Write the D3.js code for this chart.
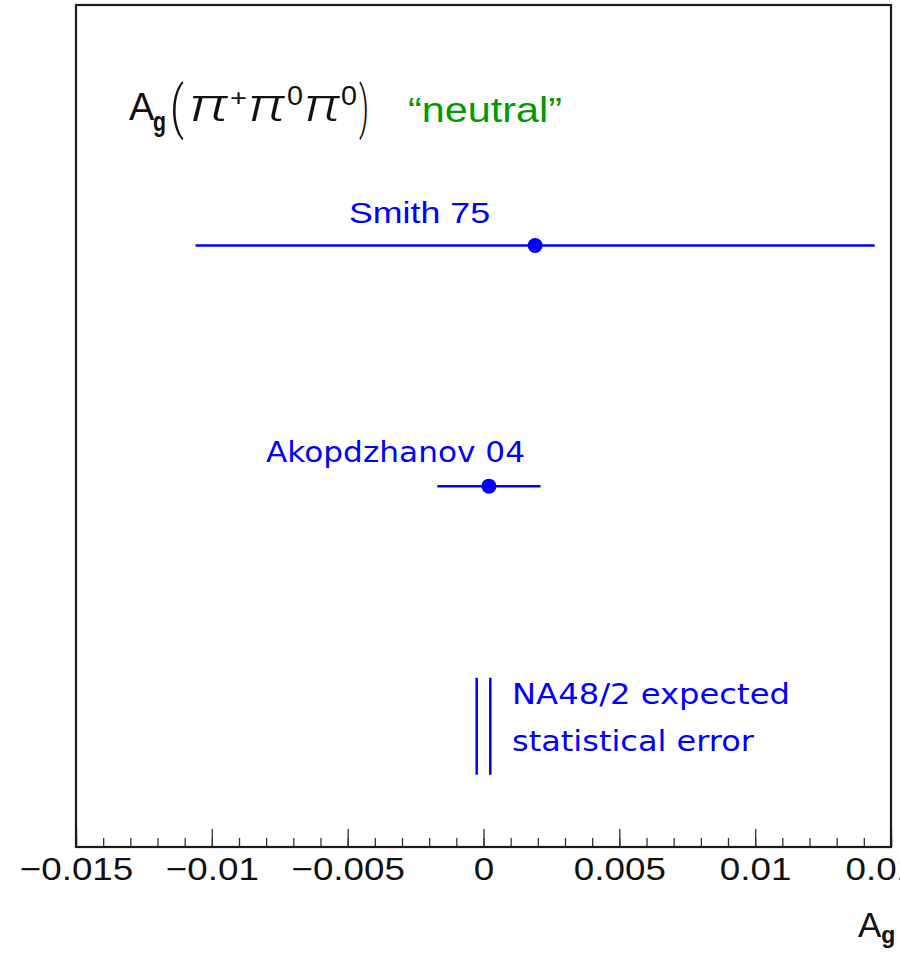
<!DOCTYPE html>
<html>
<head>
<meta charset="utf-8">
<script src="https://cdn.jsdelivr.net/npm/d3@7"></script>
<style>
  html, body { margin: 0; padding: 0; background: #fff; }
  svg { display: block; }
</style>
</head>
<body>
<svg id="chart" width="900" height="953"></svg>
<script>
// ---- data ----
const measurements = ["Smith 75", "Akopdzhanov 04"];
const centralValues = [0.0019, 0.0002];
const errors = [0.0125, 0.0019];
const expectedLabel = ["NA48/2 expected", "statistical error"];
const expectedCenter = [0];
const expectedError = [0.00025];
const tickValues = [-0.015, -0.01, -0.005, 0, 0.005, 0.01, 0.015];
const tickLabels = ["\u22120.015", "\u22120.01", "\u22120.005", "0", "0.005", "0.01", "0.015"];
const minorTicks = d3.range(-15, 16).map(d => d / 1000);

// ---- layout ----
const plotLeft = 76, plotRight = 891, plotTop = 5, plotBottom = 847;
const svg = d3.select("#chart");

const x = d3.scaleLinear().domain([-0.015, 0.015]).range([plotLeft, plotRight]);
const y = d3.scaleLinear().domain([-1, 2.5]).range([plotTop, plotBottom]);

const blue = "#0000ff";
const sans = "'Liberation Sans', Arial, Helvetica, sans-serif";
const thin = "Roboto, 'Liberation Sans', sans-serif";

// minor ticks
const minorAxis = d3.axisBottom(x).tickValues(minorTicks).tickSizeInner(-9).tickSizeOuter(0).tickFormat("");
svg.append("g").attr("transform", `translate(0,${plotBottom})`).call(minorAxis)
  .call(g => g.select(".domain").remove())
  .call(g => g.selectAll("line").attr("stroke", "#333").attr("stroke-width", 1.3));

// major ticks
const majorAxis = d3.axisBottom(x).tickValues(tickValues).tickSizeInner(-18).tickSizeOuter(0)
  .tickFormat((d, i) => tickLabels[i]);
svg.append("g").attr("transform", `translate(0,${plotBottom})`).call(majorAxis)
  .call(g => g.select(".domain").remove())
  .call(g => g.selectAll("line").attr("stroke", "#333").attr("stroke-width", 1.3))
  .call(g => g.selectAll("text")
    .attr("y", 33).attr("dy", 0)
    .attr("fill", "#111")
    .attr("font-family", sans)
    .attr("font-size", 32)
    .attr("transform", "scale(1.15,1)"));

// frame
svg.append("rect")
  .attr("x", plotLeft).attr("y", plotTop)
  .attr("width", plotRight - plotLeft).attr("height", plotBottom - plotTop)
  .attr("fill", "none").attr("stroke", "#1c1c14").attr("stroke-width", 2.2);

// measurements
const meas = svg.append("g");
measurements.forEach((name, i) => {
  const yy = y(i);
  meas.append("line")
    .attr("x1", x(centralValues[i] - errors[i])).attr("x2", x(centralValues[i] + errors[i]))
    .attr("y1", yy).attr("y2", yy)
    .attr("stroke", blue).attr("stroke-width", 2.5);
  meas.append("circle")
    .attr("cx", x(centralValues[i])).attr("cy", yy).attr("r", 7.5)
    .attr("fill", blue);
});

// labels for measurements
meas.append("text")
  .attr("x", 349).attr("y", y(0) - 23)
  .attr("font-family", sans).attr("font-size", 30)
  .attr("fill", blue)
  .attr("textLength", 141).attr("lengthAdjust", "spacingAndGlyphs")
  .text(measurements[0]);
meas.append("text")
  .attr("x", 266).attr("y", y(1) - 24)
  .attr("font-family", "'DejaVu Sans', sans-serif").attr("font-size", 28)
  .attr("fill", blue)
  .attr("textLength", 259).attr("lengthAdjust", "spacingAndGlyphs")
  .text(measurements[1]);

// expected statistical error (vertical lines)
const expY = 2;
[expectedCenter[0] - expectedError[0], expectedCenter[0] + expectedError[0]].forEach(v => {
  svg.append("line")
    .attr("x1", x(v)).attr("x2", x(v))
    .attr("y1", y(expY) - 49).attr("y2", y(expY) + 48)
    .attr("stroke", blue).attr("stroke-width", 2.5);
});
svg.append("text")
  .attr("x", 512).attr("y", y(expY) - 23)
  .attr("font-family", "'DejaVu Sans', sans-serif").attr("font-size", 29)
  .attr("fill", blue)
  .attr("textLength", 278).attr("lengthAdjust", "spacingAndGlyphs")
  .text(expectedLabel[0]);
svg.append("text")
  .attr("x", 512).attr("y", y(expY) + 24)
  .attr("font-family", "'DejaVu Sans', sans-serif").attr("font-size", 29)
  .attr("fill", blue)
  .attr("textLength", 242).attr("lengthAdjust", "spacingAndGlyphs")
  .text(expectedLabel[1]);

// title  A_g(π+π0π0)
const titleG = svg.append("g").attr("fill", "#111").attr("font-family", sans);
const titleParts = [
  { t: "A", x: 129, y: 120, fs: 38 },
  { t: "g", x: 153, y: 131, fs: 28, len: 13, bold: true },
  { t: "(", x: 170, y: 127, fs: 58, len: 14, thin: true },
  { t: "\u03c0", x: 189, y: 121, fs: 46, len: 39, it: true, thin: true },
  { t: "+", x: 230, y: 106, fs: 24, len: 17 },
  { t: "\u03c0", x: 248, y: 121, fs: 46, len: 37, it: true, thin: true },
  { t: "0", x: 287, y: 105, fs: 27, len: 16 },
  { t: "\u03c0", x: 304, y: 121, fs: 46, len: 36, it: true, thin: true },
  { t: "0", x: 341, y: 105, fs: 27, len: 16 },
  { t: ")", x: 359, y: 127, fs: 58, len: 10, thin: true }
];
titleParts.forEach(p => {
  const t = titleG.append("text")
    .attr("x", p.x).attr("y", p.y)
    .attr("font-size", p.fs)
    .text(p.t);
  if (p.len) t.attr("textLength", p.len).attr("lengthAdjust", "spacingAndGlyphs");
  if (p.it) t.attr("font-style", "italic");
  if (p.thin) t.attr("font-family", thin).attr("font-weight", 300);
  if (p.bold) t.attr("font-weight", "bold");
});

svg.append("text")
  .attr("x", 408).attr("y", 122)
  .attr("font-family", sans).attr("font-size", 35)
  .attr("fill", "#009a00")
  .attr("textLength", 154).attr("lengthAdjust", "spacingAndGlyphs")
  .text("\u201cneutral\u201d");

// x axis title
const xt = svg.append("text")
  .attr("x", 858).attr("y", 937)
  .attr("font-family", sans).attr("font-size", 35)
  .attr("fill", "#111");
xt.append("tspan").text("A");
xt.append("tspan").attr("font-size", 23).attr("font-weight", "bold").attr("dy", 6).text("g");
</script>
</body>
</html>
